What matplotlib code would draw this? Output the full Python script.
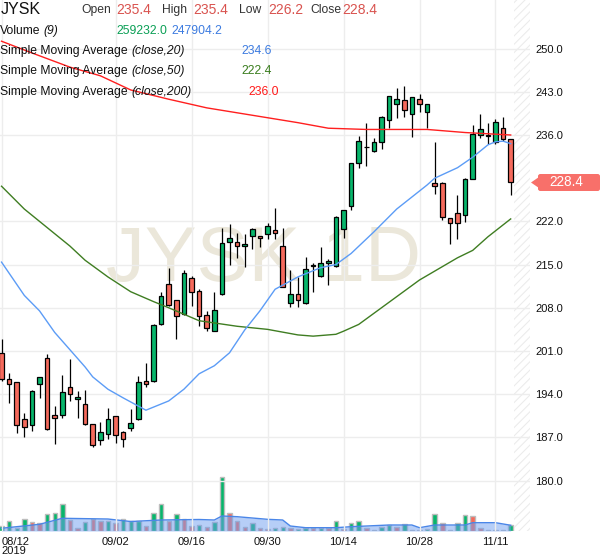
import numpy as np
import matplotlib.pyplot as plt
from matplotlib.patches import Rectangle, Polygon, FancyBboxPatch

plt.rcParams['font.family'] = ['Liberation Sans', 'DejaVu Sans']
plt.rcParams['hatch.linewidth'] = 0.8

# one candle per weekday, 2019-08-12 .. 2019-11-13
opens = [200.6, 196.4, 195.9, 189.9, 189.0, 195.6, 199.8, 190.6, 190.7, 195.1,
         193.2, 192.4, 189.1, 186.5, 187.6, 190.4, 187.8, 188.5, 189.9, 196.2,
         196.1, 205.3, 211.9, 209.2, 207.0, 212.9, 210.7, 206.8, 204.3, 210.2,
         218.6, 218.6, 218.0, 219.7, 219.7, 219.9, 220.6, 218.0, 208.7, 210.3,
         208.7, 214.7, 213.1, 215.2, 214.7, 220.7, 224.5, 231.4, 234.0, 233.4,
         234.8, 238.4, 241.0, 241.6, 239.4, 241.9, 239.8, 228.3, 228.3, 222.5,
         223.3, 223.1, 228.9, 236.0, 235.9, 234.9, 237.2, 235.4]
highs = [202.9, 197.4, 196.0, 190.9, 194.6, 196.8, 200.5, 192.0, 197.1, 199.7,
         194.5, 194.6, 189.2, 189.5, 191.7, 190.5, 188.0, 191.6, 197.0, 199.1,
         205.3, 210.5, 214.4, 209.3, 214.1, 213.2, 211.0, 207.5, 210.5, 220.9,
         221.5, 220.1, 219.9, 220.9, 219.7, 221.8, 224.1, 221.0, 214.2, 213.0,
         216.3, 215.3, 217.9, 215.9, 222.9, 223.9, 231.5, 235.8, 238.0, 235.5,
         239.0, 242.3, 243.6, 244.0, 242.1, 242.7, 241.0, 234.8, 228.4, 222.5,
         226.2, 229.1, 237.6, 239.4, 237.9, 238.6, 238.9, 235.4]
lows = [196.2, 192.5, 187.7, 187.1, 188.1, 193.4, 188.2, 185.9, 190.2, 192.9,
        190.2, 189.0, 185.5, 185.7, 186.7, 186.1, 185.4, 188.0, 189.8, 195.1,
        196.0, 205.2, 208.3, 203.0, 206.9, 208.3, 205.0, 204.3, 204.2, 210.1,
        215.0, 216.0, 214.6, 217.5, 217.9, 219.2, 219.1, 211.3, 208.2, 208.1,
        208.6, 210.6, 213.0, 211.7, 214.6, 219.3, 223.8, 230.6, 230.9, 233.3,
        233.8, 237.2, 238.8, 238.9, 235.6, 239.7, 237.1, 226.4, 222.2, 218.4,
        219.1, 221.9, 228.8, 235.5, 234.5, 234.6, 235.1, 226.2]
closes = [196.4, 195.6, 189.0, 188.6, 194.5, 196.7, 188.3, 190.1, 194.3, 194.0,
          193.5, 189.1, 185.7, 187.9, 190.0, 187.4, 186.7, 189.4, 195.9, 195.6,
          205.2, 209.9, 208.4, 206.6, 213.7, 210.5, 206.7, 204.8, 207.6, 218.5,
          219.3, 218.0, 218.4, 220.7, 219.3, 221.2, 220.1, 211.4, 210.3, 209.3,
          214.3, 214.9, 215.2, 215.6, 222.7, 223.9, 231.4, 235.1, 234.1, 234.8,
          238.9, 242.3, 241.9, 240.1, 242.1, 241.0, 241.0, 227.8, 222.7, 221.8,
          221.8, 228.9, 236.2, 236.9, 236.0, 238.1, 235.4, 228.4]
volumes = [216000, 432000, 130000, 531000, 402000, 359000, 721000, 791000, 1153000, 475000,
           117000, 402000, 505000, 432000, 432000, 333000, 518000, 432000, 432000, 229000,
           765000, 1179000, 432000, 721000, 505000, 203000, 246000, 160000, 402000, 2320000,
           765000, 445000, 160000, 333000, 117000, 86000, 143000, 186000, 117000, 86000,
           117000, 117000, 117000, 117000, 445000, 86000, 359000, 445000, 143000, 43000,
           160000, 259000, 186000, 302000, 43000, 43000, 86000, 734000, 333000, 43000,
           333000, 691000, 648000, 117000, 43000, 43000, 43000, 259232]
vol_up = [1, 1, 1, 1, 0, 0, 1, 1, 1, 0,
          0, 1, 0, 0, 1, 0, 1, 1, 1, 0,
          1, 1, 0, 1, 0, 0, 1, 0, 1, 1,
          0, 0, 0, 1, 0, 0, 1, 1, 0, 1,
          1, 0, 1, 0, 1, 0, 1, 1, 0, 1,
          1, 1, 0, 1, 1, 1, 1, 1, 0, 1,
          1, 1, 0, 0, 1, 1, 1, 1]

# indicator lines at a few candles
sma20_idx = [0, 3, 5, 7, 9, 11, 12, 14, 16, 19, 22, 24, 26, 28, 30, 32, 34, 36,
             39, 42, 44, 46, 49, 52, 56, 57, 60, 62, 64, 65, 66, 67]
sma20_val = [215.4, 210.0, 207.5, 204.0, 201.2, 198.4, 196.8, 194.8, 193.4, 191.4,
             192.9, 194.8, 197.3, 198.6, 200.7, 204.4, 207.5, 211.0, 213.0, 214.5,
             215.0, 216.8, 220.3, 224.0, 227.9, 229.0, 230.7, 232.4, 234.4, 234.9,
             235.0, 234.6]
sma50_idx = [0, 3, 9, 11, 14, 17, 20, 22, 26, 31, 35, 39, 41, 44, 45, 47, 50, 55,
             60, 62, 64, 67]
sma50_val = [227.7, 224.0, 218.0, 215.7, 213.0, 210.6, 209.0, 208.0, 205.9, 205.0,
             204.5, 203.6, 203.4, 203.7, 204.2, 205.3, 208.0, 212.5, 216.1, 217.3,
             219.5, 222.4]
sma200_idx = [0, 4, 9, 13, 17, 22, 27, 31, 35, 39, 43, 48, 56, 61, 67]
sma200_val = [251.2, 249.3, 247.0, 245.6, 243.3, 241.8, 240.4, 239.6, 238.8, 238.0,
              237.1, 236.9, 236.9, 236.4, 236.0]
volma_idx = [0, 5, 8, 14, 17, 21, 26, 28, 29, 31, 35, 37, 38, 40, 44, 46, 51, 54,
             55, 57, 61, 62, 65, 67]
volma_val = [117000, 289000, 549000, 518000, 410000, 475000, 497000, 475000, 648000,
             618000, 505000, 475000, 216000, 143000, 143000, 186000, 259000, 259000,
             143000, 259000, 259000, 359000, 359000, 247904]

tick_idx = [0, 15, 25, 35, 45, 55, 65]
tick_labels = ['08/12\n2019', '09/02', '09/16', '09/30', '10/14', '10/28', '11/11']
price_ticks = [180, 187, 194, 201, 208, 215, 222, 236, 243, 250]

W, H = 600, 558
GREEN = '#08b56b'
RED = '#f56a5c'


def fx(x):
    return x / W


def fy(y):
    return 1 - y / H


fig = plt.figure(figsize=(W / 100, H / 100), dpi=100)
ax = fig.add_axes([0, fy(531), fx(530), 531 / H])
axv = fig.add_axes([0, fy(531), fx(530), 531 / H], sharex=ax)
axv.set_zorder(0)
ax.set_zorder(1)
ax.patch.set_visible(False)

x = np.arange(len(opens))
ax.set_xlim(-0.2, 69.54)
ax.set_ylim(171.82, 257.88)

# volume panel
axv.set_ylim(0, 531 * 43200)
vcol = [GREEN if u else RED for u in vol_up]
axv.bar(x, volumes, width=0.58, color=vcol, edgecolor='#bdbdbd', linewidth=1.0, zorder=2)
axv.fill_between(volma_idx, volma_val, 0, color='#6f9ef0', alpha=0.5, lw=0, zorder=3)
axv.plot(volma_idx, volma_val, color='#4a86e8', lw=1.0, zorder=4)
axv.axis('off')

# candles
ax.vlines(x, lows, highs, color='black', lw=0.9, zorder=3)
for i in range(len(opens)):
    o, c = opens[i], closes[i]
    col = GREEN if c >= o else RED
    ax.add_patch(Rectangle((i - 0.31, min(o, c)), 0.62, max(abs(c - o), 0.12),
                           facecolor=col, edgecolor='black', lw=0.9, zorder=4))

ax.plot(sma200_idx, sma200_val, color='#ff1f1f', lw=1.0, zorder=5)
ax.plot(sma50_idx, sma50_val, color='#3f7d22', lw=1.0, zorder=5)
ax.plot(sma20_idx, sma20_val, color='#5c9cf6', lw=1.0, zorder=5)

# future area
ax.add_patch(Rectangle((67.43, 171.82), 2.2, 86.1, fill=False, hatch='////',
                       edgecolor='#ececec', lw=0, zorder=0.3))

# watermark
ax.text(fx(264), fy(261), 'JYSK 1D', transform=fig.transFigure, fontsize=56,
        color='#ebe7da', ha='center', va='center', zorder=0.1)

# axes and grid
ax.set_yticks(price_ticks)
ax.set_yticklabels(['%.1f' % t for t in price_ticks])
ax.set_xticks(tick_idx)
ax.set_xticklabels(tick_labels)
ax.yaxis.tick_right()
ax.tick_params(axis='y', length=0, pad=4, labelsize=8, labelcolor='#111111')
ax.tick_params(axis='x', length=0, pad=4, labelsize=8, labelcolor='#111111')
xl = ax.get_xticklabels()
xl[0].set_ha('left')
for t in xl:
    t.set_linespacing(0.9)
ax.grid(True, color='#ededed', lw=1)
ax.set_axisbelow(True)
for s in ax.spines.values():
    s.set_visible(False)

# last price tag
fig.add_artist(FancyBboxPatch((fx(538), fy(191)), fx(62), 17 / H,
                              boxstyle='round,pad=0,rounding_size=0.004',
                              transform=fig.transFigure, fc='#f8706a', ec='none'))
fig.add_artist(Polygon([(fx(531), fy(182.5)), (fx(539), fy(177)), (fx(539), fy(188))],
                       closed=True, transform=fig.transFigure, fc='#f8706a', ec='none'))
fig.text(fx(566), fy(182.5), '228.4', color='white', fontsize=9.8, ha='center', va='center')

# header legend
renderer = fig.canvas.get_renderer()
fs = 8.75


def label(xp, yp, normal, italic):
    t = fig.text(fx(xp), fy(yp), normal, fontsize=fs, va='center', color='#111111')
    w = t.get_window_extent(renderer).width
    fig.text(fx(xp + w + 3.4), fy(yp), italic, fontsize=fs, style='italic',
             va='center', color='#111111')


fig.text(fx(1), fy(10), 'JYSK', fontsize=11.5, va='center', color='#111111')
ohlc_red = '#d9534f'
for lx, name, vx, val in [(81, 'Open', 116, '235.4'), (162, 'High', 193, '235.4'),
                          (239, 'Low', 268, '226.2'), (310, 'Close', 342, '228.4')]:
    fig.text(fx(lx), fy(10), name, fontsize=fs, va='center', color='#333333')
    fig.text(fx(vx), fy(9.5), val, fontsize=10, va='center', color=ohlc_red)

label(0, 31, 'Volume', '(9)')
fig.text(fx(116), fy(31), '259232.0', fontsize=fs, va='center', color='#0a9f55')
fig.text(fx(171), fy(31), '247904.2', fontsize=fs, va='center', color='#3c7be0')
label(0, 51, 'Simple Moving Average', '(close,20)')
fig.text(fx(241), fy(51), '234.6', fontsize=fs, va='center', color='#3c7be0')
label(0, 71, 'Simple Moving Average', '(close,50)')
fig.text(fx(241), fy(71), '222.4', fontsize=fs, va='center', color='#3a7d1e')
label(0, 92, 'Simple Moving Average', '(close,200)')
fig.text(fx(248), fy(92), '236.0', fontsize=fs, va='center', color='#ff1a1a')

fig.savefig('out.png', dpi=100)
